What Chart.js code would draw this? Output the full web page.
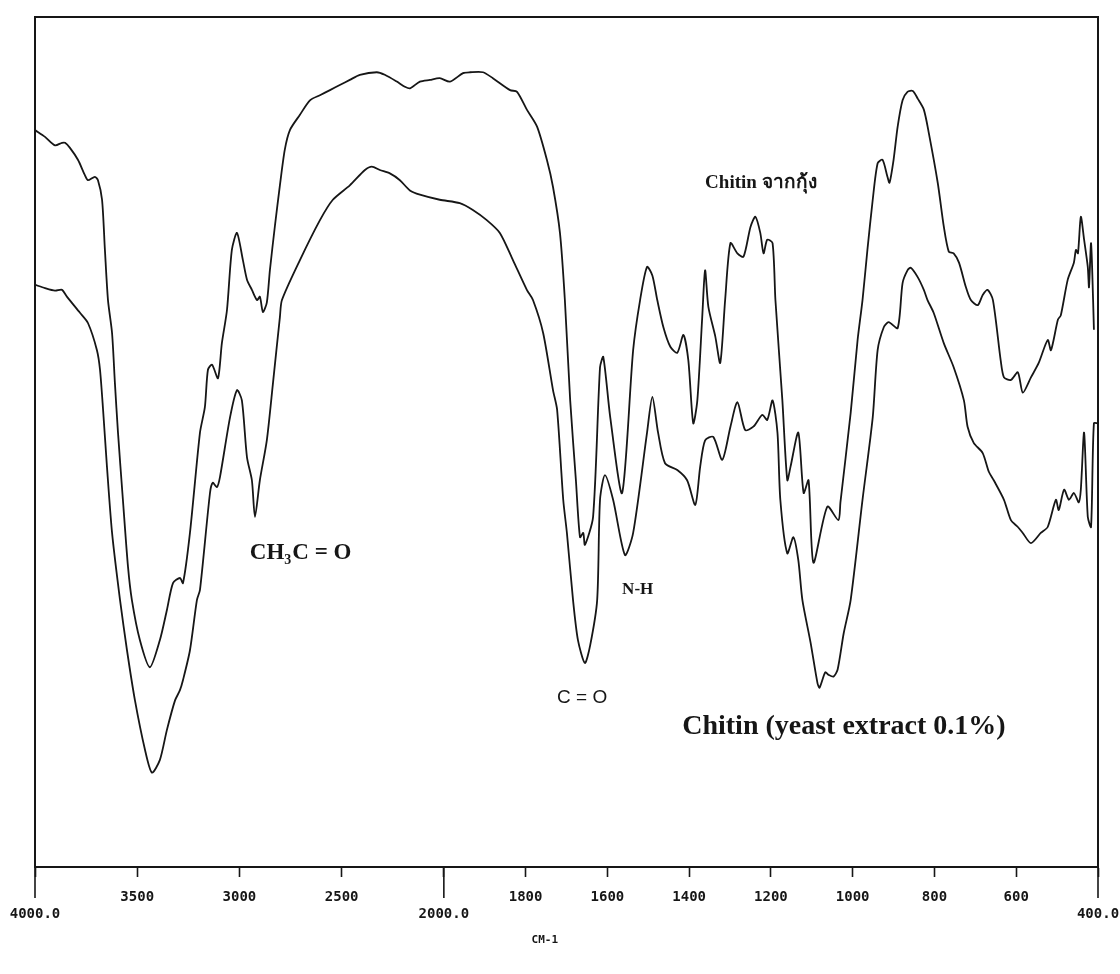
<!DOCTYPE html>
<html><head><meta charset="utf-8">
<script src="https://cdn.jsdelivr.net/npm/chart.js@4"></script>
<style>html,body{margin:0;padding:0;background:#fff}#wrap{width:1120px;height:974px;position:relative}</style>
</head><body><div id="wrap"><canvas id="c"></canvas></div>
<script>
// ---- data (wavenumber cm-1, transmittance %) ----
const shrimpWavenumber = [4000,3951,3902,3868,3853,3829,3790,3756,3741,3707,
3692,3672,3658,3643,3623,3609,3594,3570,3545,3526,
3487,3438,3389,3355,3325,3291,3276,3242,3193,3169,
3154,3134,3105,3086,3061,3037,3012,2983,2963,2939,
2914,2900,2885,2866,2851,2826,2802,2778,2753,2704,
2655,2606,2557,2509,2460,2411,2328,2289,2230,2191,
2166,2117,2068,2020,1985,1953,1936,1904,1880,1838,
1821,1797,1772,1748,1733,1716,1704,1691,1677,1667,
1659,1655,1635,1618,1610,1593,1564,1537,1520,1503,
1490,1478,1463,1446,1429,1414,1402,1390,1380,1368,
1361,1353,1336,1324,1312,1299,1282,1267,1250,1238,
1226,1218,1209,1196,1189,1172,1160,1152,1133,1120,
1108,1096,1062,1035,1030,1005,988,976,964,951,
939,927,915,910,900,890,878,866,853,841,
826,814,792,777,765,753,740,723,711,694,
682,670,657,638,630,613,596,584,564,545,
523,515,498,491,474,459,454,449,442,434,
425,422,417,412,410];
const shrimpT = [86.7,85.9,84.9,85.2,85.2,84.6,83.2,81.4,80.8,81.2,
80.8,78.5,72.6,66.7,62.8,56.9,51.1,43.2,35.3,31.4,
26.7,23.5,26.7,30.2,33.4,34.0,33.4,39.3,51.1,54.1,
58.5,59.1,57.5,61.6,65.5,72.6,74.6,71.4,69.1,67.9,
66.7,67.1,65.3,66.4,70.2,75.5,80.2,84.4,86.7,88.5,
90.2,90.8,91.4,92.0,92.6,93.2,93.5,93.2,92.4,91.8,
91.6,92.4,92.6,92.8,92.4,93.4,93.5,93.5,92.8,91.4,
91.2,89.1,87.1,83.2,80.0,74.6,66.7,54.9,45.5,38.8,
39.3,37.9,41.2,58.8,60.0,52.9,44.0,60.8,66.7,70.6,
69.6,66.7,63.5,61.2,60.5,62.6,59.6,52.2,54.9,64.7,
70.2,65.9,62.4,59.3,66.7,73.4,72.2,71.8,75.3,76.5,
74.6,72.2,73.8,73.4,66.7,54.9,45.5,47.1,51.1,44.0,
45.5,35.8,42.4,40.8,42.9,53.4,62.0,66.7,72.6,78.5,
82.8,83.2,81.2,80.5,83.2,87.1,90.2,91.2,91.3,90.4,
89.1,86.4,80.5,75.3,72.4,72.2,71.1,68.2,66.7,66.1,
67.3,67.9,66.7,59.6,57.6,57.3,58.2,55.8,57.6,59.3,
62.0,60.8,64.4,64.9,69.1,71.1,72.6,72.2,76.5,73.8,
70.6,68.2,73.4,66.7,63.2];

const yeastWavenumber = [4000,3951,3902,3868,3844,3780,3741,3697,3682,3667,
3648,3623,3584,3550,3511,3462,3428,3389,3355,3315,
3291,3276,3242,3208,3193,3144,3130,3110,3095,3046,
3012,2988,2963,2939,2924,2900,2866,2836,2802,2792,
2704,2606,2543,2460,2386,2352,2313,2264,2215,2166,
2117,2020,1961,1929,1895,1863,1831,1797,1782,1757,
1733,1723,1708,1699,1684,1672,1655,1642,1625,1618,
1606,1586,1557,1537,1503,1490,1476,1459,1429,1405,
1385,1373,1361,1341,1319,1299,1282,1263,1243,1221,
1209,1196,1184,1177,1160,1145,1133,1123,1103,1086,
1081,1067,1059,1047,1037,1022,1005,976,951,939,
924,912,890,878,866,858,841,826,817,802,
777,753,728,719,704,682,667,655,630,613,
596,584,564,540,523,503,496,483,471,459,
447,442,434,425,417,410,400];
const yeastT = [68.5,68.1,67.8,67.9,67.1,65.2,64.0,60.8,58.5,53.8,
47.1,39.3,31.4,25.5,19.6,13.8,11.1,12.6,16.1,19.6,
20.8,22.0,25.5,31.4,32.6,44.0,45.2,44.7,45.9,52.9,
56.1,54.9,48.2,45.5,41.2,45.5,50.2,56.9,64.7,66.7,
71.4,76.1,78.5,80.2,82.0,82.4,82.0,81.6,80.8,79.6,
79.1,78.5,78.1,77.3,76.1,74.6,71.4,67.9,66.7,62.8,
56.1,53.8,43.2,39.3,31.4,26.7,24.0,26.1,31.4,43.2,
46.1,43.2,36.7,39.3,51.1,55.3,51.1,47.5,46.7,45.5,
42.6,47.1,50.2,50.6,47.9,51.8,54.7,51.4,51.8,53.2,
52.6,54.9,51.1,43.2,36.9,38.8,36.1,31.4,26.4,21.6,
21.1,22.9,22.6,22.4,23.2,27.5,31.4,43.2,52.9,60.8,
63.5,64.1,63.4,68.7,70.2,70.5,69.4,67.9,66.7,65.2,
61.6,58.8,54.9,51.8,49.9,48.7,46.5,45.5,43.2,40.8,
40.0,39.3,38.1,39.3,40.0,43.2,42.0,44.4,43.2,44.0,
42.9,44.4,51.1,41.2,40.0,52.2,52.2];

const tickWavenumbers = [4000,3500,3000,2500,2000,1800,1600,1400,1200,1000,800,600,400];
const tickLabels = ['4000.0','3500','3000','2500','2000.0','1800','1600','1400','1200','1000','800','600','400.0'];
const majorTickWavenumbers = [4000,2000,400];
const axisTitle = 'CM-1';

// text annotations anchored in data coordinates (left edge, vertical middle)
const notes = [
  {parts:[{t:'Chitin จากกุ้ง'}], wn:1361, t:80.5, size:19, family:'"Liberation Serif", "DejaVu Serif", serif', weight:'bold'},
  {parts:[{t:'CH'},{t:'3',sub:true},{t:'C = O'}], wn:2949, t:36.9, size:23, family:'"Liberation Serif", serif', weight:'bold'},
  {parts:[{t:'N-H'}], wn:1564, t:32.6, size:17, family:'"Liberation Serif", serif', weight:'bold'},
  {parts:[{t:'C = O'}], wn:1723, t:19.9, size:19, family:'"Liberation Sans", Arial, sans-serif', weight:'normal'},
  {parts:[{t:'Chitin (yeast extract 0.1%)'}], wn:1417, t:16.5, size:28, family:'"Liberation Serif", serif', weight:'bold'}
];

// ---- IR scale: 4000-2000 compressed 2:1 relative to 2000-400 ----
const BaseLinear = Chart.LinearScale || Chart.registry.getScale('linear');
class IRScale extends BaseLinear {
  _u(v){ return v >= 2000 ? (4000 - v) / 2 : 1000 + (2000 - v); }
  getPixelForValue(v){ return this.getPixelForDecimal(this._u(v) / 2600); }
  getValueForPixel(p){ const u = this.getDecimalForPixel(p) * 2600; return u <= 1000 ? 4000 - 2*u : 2000 - (u - 1000); }
}
IRScale.id = 'irscale';
IRScale.defaults = BaseLinear.defaults;
Chart.register(IRScale);

const INK = '#161616';

const framePlugin = {
  id: 'frame',
  afterDraw(chart){
    const {ctx, chartArea:a, scales} = chart;
    const xs = scales.x, ys = scales.y;
    ctx.save();
    ctx.strokeStyle = INK; ctx.lineWidth = 2;
    ctx.beginPath();
    ctx.moveTo(a.left, a.top); ctx.lineTo(a.right, a.top); ctx.lineTo(a.right, a.bottom);
    ctx.stroke();
    // long ticks for major labels
    ctx.lineWidth = 1.6;
    majorTickWavenumbers.forEach(w => {
      const px = xs.getPixelForValue(w);
      ctx.beginPath(); ctx.moveTo(px, a.bottom); ctx.lineTo(px, a.bottom + 31); ctx.stroke();
    });
    // axis title
    ctx.fillStyle = INK;
    ctx.font = 'bold 11px "DejaVu Sans Mono", monospace';
    ctx.textAlign = 'center'; ctx.textBaseline = 'middle';
    ctx.fillText(axisTitle, xs.getPixelForValue(1753), a.bottom + 73);
    // annotations
    ctx.textAlign = 'left';
    notes.forEach(n => {
      let x = xs.getPixelForValue(n.wn);
      const y = ys.getPixelForValue(n.t);
      n.parts.forEach(p => {
        const sz = p.sub ? Math.round(n.size * 0.62) : n.size;
        ctx.font = n.weight + ' ' + sz + 'px ' + n.family;
        ctx.fillText(p.t, x, p.sub ? y + n.size * 0.3 : y);
        x += ctx.measureText(p.t).width + (p.sub ? 1 : 0);
      });
    });
    ctx.restore();
  }
};

const mk = (w, t) => w.map((v, i) => ({x: v, y: t[i]}));

new Chart(document.getElementById('c'), {
  type: 'line',
  data: {
    datasets: [
      {label: 'Chitin จากกุ้ง', data: mk(shrimpWavenumber, shrimpT), borderColor: INK, borderWidth: 1.8, pointRadius: 0, tension: 0.25, fill: false},
      {label: 'Chitin (yeast extract 0.1%)', data: mk(yeastWavenumber, yeastT), borderColor: INK, borderWidth: 1.8, pointRadius: 0, tension: 0.25, fill: false}
    ]
  },
  options: {
    responsive: true, maintainAspectRatio: false, animation: false,
    layout: {padding: {left: 35, right: 22, top: 17, bottom: 0}},
    plugins: {legend: {display: false}, tooltip: {enabled: false}},
    scales: {
      x: {
        type: 'irscale', min: 400, max: 4000,
        afterBuildTicks: s => { s.ticks = tickWavenumbers.map(v => ({value: v})); },
        afterFit: s => { s.height = 107; s.paddingLeft = 0; s.paddingRight = 0; },
        grid: {display: true, drawOnChartArea: false, drawTicks: true, tickLength: 10, tickColor: INK, tickWidth: 1.6},
        border: {display: true, color: INK, width: 2},
        ticks: {
          autoSkip: false, maxRotation: 0, minRotation: 0, padding: 12, color: INK,
          font: {family: '"DejaVu Sans Mono", monospace', size: 14, weight: 'bold', lineHeight: 1.2},
          callback: (v, i) => majorTickWavenumbers.includes(tickWavenumbers[i]) ? ['', tickLabels[i]] : tickLabels[i]
        }
      },
      y: {
        type: 'linear', min: 0, max: 100,
        afterFit: s => { s.width = 0; },
        grid: {display: false},
        border: {display: true, color: INK, width: 2},
        ticks: {display: false}
      }
    }
  },
  plugins: [framePlugin]
});
</script>
</body></html>
